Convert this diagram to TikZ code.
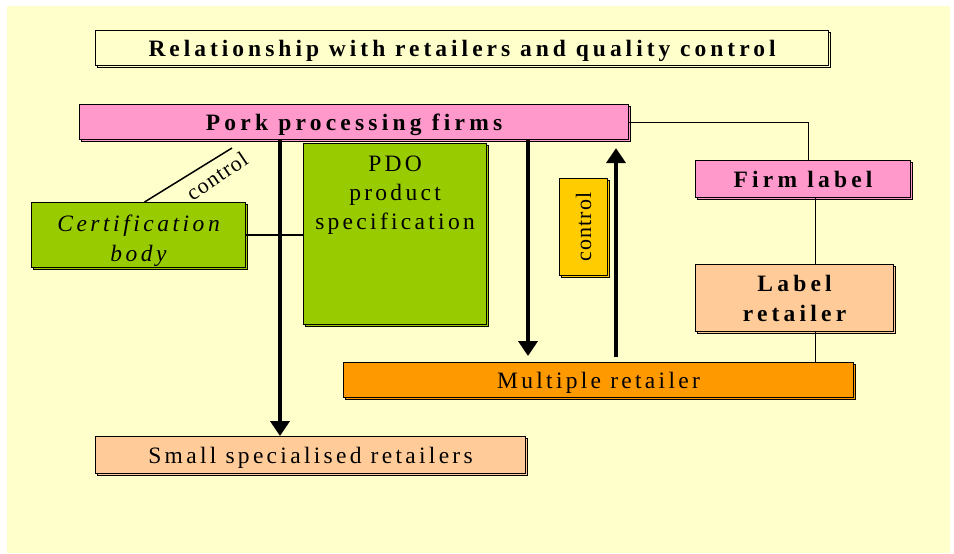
\documentclass[tikz,border=0pt]{standalone}
\usepackage{fontspec}
\setmainfont{Liberation Serif}
\newfontfamily\spacedbold[LetterSpace=18]{Liberation Serif}
\newfontfamily\spacedtitle[LetterSpace=17]{Liberation Serif}
\newfontfamily\spacedreg[LetterSpace=14]{Liberation Serif}
\newfontfamily\spacedit[LetterSpace=15]{Liberation Serif}
\newfontfamily\plainserif[LetterSpace=5]{Liberation Serif}
\usetikzlibrary{arrows.meta,shadows}

\definecolor{bgyellow}{HTML}{FFFFCC}
\definecolor{pinkbox}{HTML}{FF99CC}
\definecolor{greenbox}{HTML}{99CC00}
\definecolor{peachbox}{HTML}{FFCC99}
\definecolor{orangebox}{HTML}{FF9900}
\definecolor{goldbox}{HTML}{FFCC00}

\tikzset{
  boxed/.style={draw=black, line width=1.1pt, fill=#1, inner sep=0pt, anchor=north west,
    align=center,
    drop shadow={shadow xshift=2pt, shadow yshift=-2pt, fill=#1, draw=black,
      line width=1.1pt, opacity=1}},
  oneline/.style={text depth=0pt},
  titletxt/.style={font=\spacedtitle\bfseries\fontsize{23.5}{30}\selectfont},
  boldtxt/.style={font=\spacedbold\bfseries\fontsize{23.5}{30}\selectfont},
  regtxt/.style={font=\spacedreg\fontsize{23.5}{29}\selectfont},
  itxt/.style={font=\spacedit\itshape\fontsize{23.5}{29.5}\selectfont},
  smalltxt/.style={font=\plainserif\fontsize{22}{24}\selectfont},
  flow/.style={line width=4.5pt, -{Triangle[width=19pt,length=15pt]}},
  link/.style={line width=1pt},
  midlink/.style={line width=2pt},
}

\begin{document}
\begin{tikzpicture}[x=1pt,y=-1pt]
  % canvas
  \useasboundingbox (0,0) rectangle (954,554);
  \fill[white] (0,0) rectangle (954,554);
  \fill[bgyellow] (7,6) rectangle (950,553);

  % boxes
  \node[boxed=bgyellow, minimum width=733pt, minimum height=35pt, titletxt, oneline]
    (title) at (95,30) {Relationship with retailers and quality control};
  \node[boxed=pinkbox, minimum width=549pt, minimum height=35pt, boldtxt, oneline]
    (pork) at (79,104) {Pork processing firms};
  \node[boxed=pinkbox, minimum width=215pt, minimum height=37pt, boldtxt, oneline]
    (firm) at (695,160) {Firm label};
  \node[boxed=peachbox, minimum width=198pt, minimum height=67pt, boldtxt]
    (lab) at (695,264) {Label\\retailer};
  \node[boxed=greenbox, minimum width=214pt, minimum height=65pt]
    (cert) at (31,202) {};
  \node[itxt, align=center, anchor=north, inner sep=0pt]
    (certtext) at ([yshift=-13pt]cert.north) {Certification\\body};
  \node[boxed=greenbox, minimum width=183pt, minimum height=181pt]
    (pdo) at (303,143) {};
  \node[regtxt, align=center, anchor=north, inner sep=0pt]
    (pdotext) at ([yshift=-12.5pt]pdo.north) {PDO\\product\\specification};
  \node[boxed=goldbox, minimum width=48pt, minimum height=97pt]
    (ctrlbox) at (559,178) {};
  \node[smalltxt, rotate=90, inner sep=0pt] (ctrltext) at (ctrlbox.center) {control};
  \node[boxed=orangebox, minimum width=510pt, minimum height=35pt, regtxt, oneline]
    (multi) at (343,362) {Multiple retailer};
  \node[boxed=peachbox, minimum width=430pt, minimum height=37pt, regtxt, oneline]
    (ssr) at (95,436) {Small specialised retailers};

  % thin connectors of the firm label chain
  \draw[link] (pork.east) -| ([xshift=5.5pt]firm.north);
  \draw[link] (firm.south -| 815,0) -- (lab.north -| 815,0);
  \draw[link] (lab.south -| 815,0) -- (multi.north -| 815,0);

  % certification body links
  \draw[midlink] (cert.east) -- (cert.east -| pdo.west);
  \coordinate (ctrlend) at (232,148);
  \draw[line width=1.5pt] ([xshift=6pt]cert.north) -- (ctrlend);
  \node[smalltxt, rotate=34, inner sep=0pt] (ctrllabel) at (217,176) {control};

  % product flows
  \draw[flow] (pork.south -| 280,0) -- (ssr.north -| 280,0);
  \draw[flow, shorten >=6pt] (pork.south -| 528,0) -- (multi.north -| 528,0);
  \draw[flow, shorten <=5pt, shorten >=8pt] (multi.north -| 616,0) -- (pork.south -| 616,0);
\end{tikzpicture}
\end{document}
